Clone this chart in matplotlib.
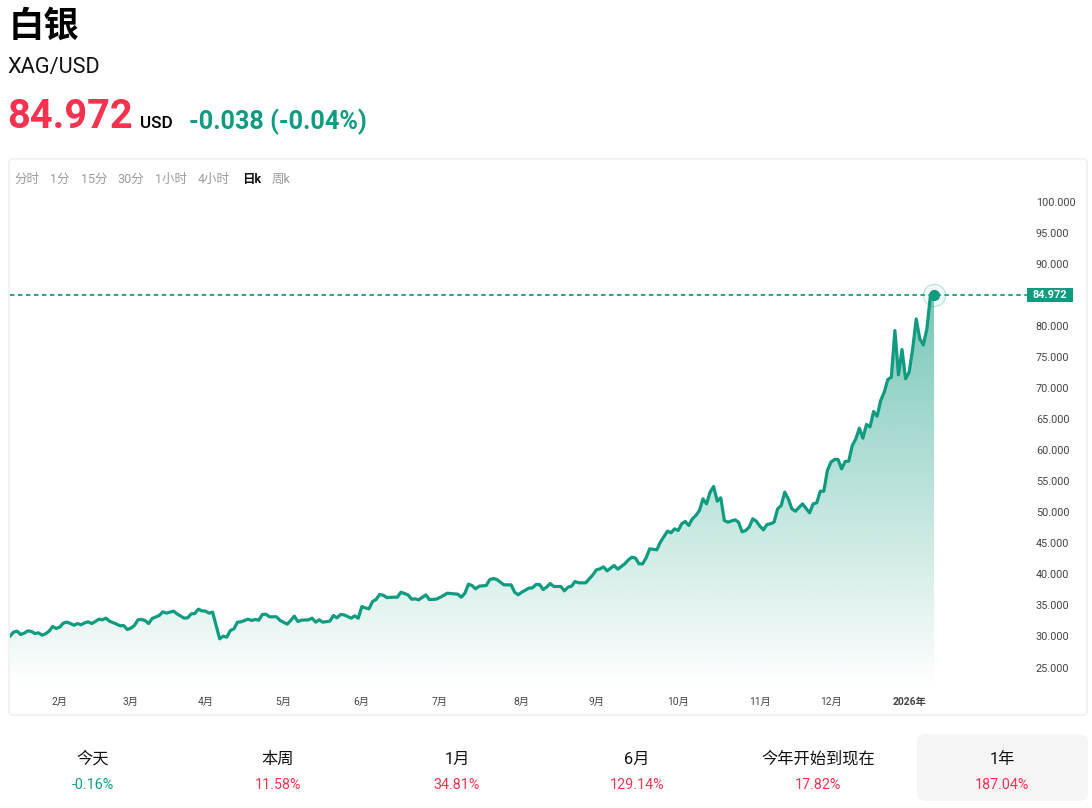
import numpy as np
import matplotlib
matplotlib.use("Agg")
import matplotlib.pyplot as plt
from matplotlib.patches import FancyBboxPatch, Rectangle, Polygon

plt.rcParams['font.family'] = ['Roboto', 'Noto Sans CJK SC', 'DejaVu Sans']

sessions_a = [0,1,2,3,4,5,6,7,8,9,10,11,12,13,14,15,16,17,18,19,20,21,22,23,24,25,26,27,28,30,31,32,33,34,35,36,37,38,39,40,42,43,44,
              46,47,49,50,51,52,53,54,55,56,57,58,59,60,61,62,63,64,65,67,68,69,70,71,72,73,75,76,78,79,80,81,82,84,85]
prices_a = [30.05,30.69,30.85,30.31,30.53,30.9,30.8,30.47,30.58,30.2,30.42,30.85,31.6,31.28,31.5,32.14,32.3,32.08,31.8,32.08,31.87,32.19,32.35,32.08,32.4,32.78,32.67,32.94,32.46,31.98,31.71,31.76,31.12,31.33,31.76,32.67,32.73,32.57,32.08,32.89,33.37,33.96,33.75,
            34.07,33.64,32.94,33.0,33.64,33.69,34.39,34.12,34.07,33.75,33.91,31.76,29.62,30.05,29.88,30.96,31.22,32.3,32.35,32.78,32.57,32.73,32.62,33.53,33.59,33.16,33.16,32.57,31.98,32.57,33.26,32.4,32.62,32.67,32.94]
sessions_b = [86,87,88,90,91,92,93,94,96,97,98,99,100,101,102,103,104,105,106,108,109,110,112,113,114,115,117,118,120,122,123,124,126,127,128,129,130,131,
              132,134,135,136,137,139,141,142,143,144,146,147,148,149,150,151,152,153,155,156,157,158,159,160,162,163,164,165,166,167,168,170,171,172]
prices_b = [32.3,32.67,32.3,32.46,33.37,32.99,33.53,33.47,32.94,33.31,32.94,34.8,34.6,34.44,35.62,35.94,36.75,36.64,36.26,36.32,36.32,37.12,36.69,36.0,36.05,35.89,36.69,35.94,36.0,36.59,36.96,36.91,36.8,36.32,36.96,38.41,38.2,37.66,
            38.09,38.2,39.16,39.32,39.16,38.3,38.3,37.12,36.7,37.12,37.77,37.82,38.36,38.36,37.55,37.93,38.52,38.04,38.04,37.34,37.93,38.09,38.84,38.63,38.63,39.27,39.91,40.72,40.88,41.2,40.56,41.42,40.83,41.26]
sessions_c = [173,174,175,176,177,178,179,180,182,183,185,186,187,188,189,190,191,192,193,194,195,196,197,198,199,200,201,202,204,205,206,207,208,209,210,211,212,213,214,215,216]
prices_c = [41.69,42.33,42.76,42.6,41.69,41.69,42.65,44.1,43.94,45.18,46.95,46.68,47.32,47.05,48.13,48.5,47.86,48.93,49.47,50.27,52.15,51.34,53.22,54.13,51.77,52.31,48.66,48.39,48.77,48.39,46.84,47.05,47.59,48.93,48.55,47.75,47.16,48.02,48.13,48.39,50.54]
sessions_d = [217,218,219,220,221,223,225,226,227,228,229,230,231,232,233,234,235,236,237,238,239,240,241,242,243,244,245,246,247,248,249,250,251,252,253,254,255,256,257,258,259,260]
prices_d = [51.07,53.22,52.15,50.54,50.16,51.34,49.89,51.34,51.5,53.38,53.38,56.71,58.05,58.48,58.48,56.97,58.15,58.21,60.73,61.8,63.52,61.91,64.11,63.73,66.2,65.45,67.97,69.31,71.35,71.73,79.24,72.1,76.18,71.46,72.53,76.29,81.1,77.9,76.93,79.5,84.87,84.972]

month_ticks = [14,34,55,77,99,121,144,165,188,211,231,253]
month_labels = ['2月','3月','4月','5月','6月','7月','8月','9月','10月','11月','12月','2026年']
price_ticks = [25,30,35,40,45,50,55,60,65,70,75,80,90,95,100]

intervals = ['分时','1分','15分','30分','1小时','4小时','日k','周k']
periods = ['今天','本周','1月','6月','今年开始到现在','1年']
period_changes = ['-0.16%','11.58%','34.81%','129.14%','17.82%','187.04%']

sessions = sessions_a + sessions_b + sessions_c + sessions_d
prices = prices_a + prices_b + prices_c + prices_d

GREEN = '#0e9b80'
RED = '#f5334f'
W, H = 1092, 808
fig = plt.figure(figsize=(W/100, H/100), dpi=100, facecolor='white')

ov = fig.add_axes([0, 0, 1, 1], zorder=0)
ov.set_xlim(0, W); ov.set_ylim(H, 0); ov.axis('off')

ov.add_patch(FancyBboxPatch((9, 159), 1078, 556, boxstyle='round,pad=0,rounding_size=4',
                            fc='white', ec='#ebebeb', lw=0.9))
ov.add_patch(FancyBboxPatch((917, 734), 171, 67, boxstyle='round,pad=0,rounding_size=9',
                            fc='#f5f5f5', ec='none'))

ov.text(9, 26, '白银', fontsize=25.5, fontweight='bold', family=['Noto Sans CJK SC'], va='center', color='black')
ov.text(7.5, 67, 'XAG/USD', fontsize=15.7, va='center', color='#111111')
ov.text(7, 116.5, '84.972', fontsize=28.6, fontweight='bold', va='center', color=RED)
ov.text(140, 123, 'USD', fontsize=12.4, fontweight='medium', va='center', color='black')
ov.text(189, 121.5, '-0.038 (-0.04%)', fontsize=18.2, fontweight='bold', va='center', color=GREEN)

ix = [14, 50, 81, 117, 155, 198, 242, 272]
for x, t in zip(ix, intervals):
    active = t == '日k'
    ov.text(x, 179, t, fontsize=9.0, va='center', color='#111111' if active else '#9a9a9a',
            fontweight='bold' if active else 'normal')

centers = [93, 278, 457, 637, 818, 1002]
for x, p, c in zip(centers, periods, period_changes):
    ov.text(x, 759, p, fontsize=11.7, ha='center', va='center', color='#111111')
    ov.text(x, 785, c, fontsize=10.3, ha='center', va='center', color=GREEN if c.startswith('-') else RED)

# chart axes: left 10px, right 1034px, top 190.5px, bottom 688.5px
ax = fig.add_axes([10/W, 1-688.5/H, 1024/W, 498/H], zorder=1)
ax.patch.set_alpha(0)
px_per_session = 924/260
px_per_unit = 466/75
ax.set_xlim(0, 1024/px_per_session)
ax.set_ylim(25-21/px_per_unit, 25+477/px_per_unit)
for s in ax.spines.values():
    s.set_visible(False)

ymin, ymax = ax.get_ylim()
g = np.zeros((256, 2, 4))
g[..., :3] = matplotlib.colors.to_rgb(GREEN)
top = prices[-1]
g[:, :, 3] = np.linspace(0.56, 0.0, 256)[:, None]
im = ax.imshow(g, extent=[sessions[0], sessions[-1], ymin, top], origin='upper', aspect='auto', zorder=1, interpolation='bilinear')
poly = Polygon(list(zip(sessions, prices)) + [(sessions[-1], ymin), (sessions[0], ymin)],
               closed=True, transform=ax.transData, fc='none', ec='none')
ax.add_patch(poly)
im.set_clip_path(poly)
ax.set_xlim(0, 1024/px_per_session)
ax.set_ylim(ymin, ymax)

ax.plot(sessions, prices, color=GREEN, lw=2.3, zorder=3, solid_joinstyle='round')
last = prices[-1]
ax.axhline(last, xmin=0, xmax=1017/1024, color=GREEN, lw=1.25, ls=(0, (2.6, 2.0)), zorder=2)
ax.plot([sessions[-1]], [last], 'o', ms=7, color=GREEN, zorder=4)
ax.plot([sessions[-1]], [last], 'o', ms=16, mfc=(14/255, 155/255, 128/255, 0.06),
        mec=(14/255, 155/255, 128/255, 0.28), mew=0.8, zorder=4)

ax.yaxis.tick_right()
ax.set_yticks(price_ticks)
ax.set_yticklabels([f'{p:.3f}' for p in price_ticks], fontsize=7.8, color='#444444')
ax.tick_params(axis='y', length=0, pad=1.3)
ax.set_xticks(month_ticks)
ax.set_xticklabels(month_labels, fontsize=7.4, color='#444444')
for lab in ax.get_xticklabels():
    if '年' in lab.get_text():
        lab.set_fontweight('bold')
ax.tick_params(axis='x', length=0, pad=6)

# price tag on the right, centred on the last price, in a layer above the chart
top_layer = fig.add_axes([0, 0, 1, 1], zorder=2)
top_layer.set_xlim(0, W); top_layer.set_ylim(H, 0); top_layer.axis('off')
ypx = top_layer.transData.inverted().transform(ax.transData.transform((0, last)))[1]
top_layer.add_patch(Rectangle((1027, ypx-7), 46, 14, fc=GREEN, ec='none'))
top_layer.text(1050, ypx+0.5, f'{last:.3f}', fontsize=7.8, fontweight='bold', color='white', ha='center', va='center')

fig.savefig('out.png', dpi=100)
